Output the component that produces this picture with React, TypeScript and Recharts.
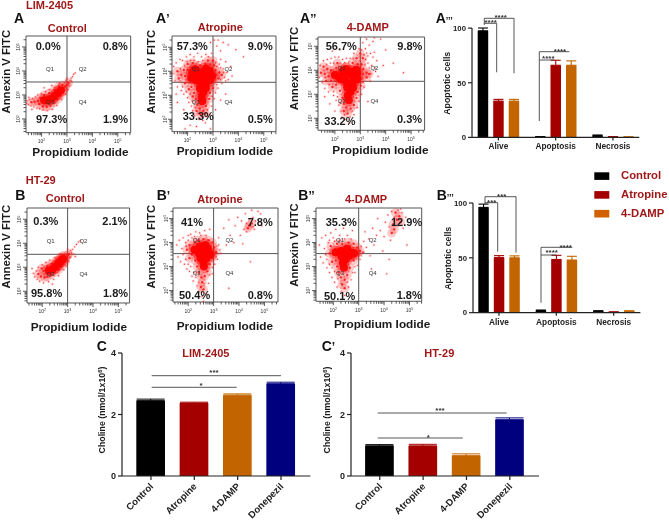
import React from "react";
import { ScatterChart, Scatter, XAxis, YAxis, ReferenceLine, ReferenceArea, BarChart, Bar, ErrorBar } from "recharts";

type P = number[];
const FONT = "'Liberation Sans', Arial, sans-serif";
const RED = "#a01818";
const BLACK = "#000000", CRIM = "#a50000", ORANGE = "#c26400", NAVY = "#00007f";

// ---- flow cytometry events (log10 units) ----
const aCore: P[] = [[2.1,2.78],[2.25,2.78],[2.4,2.85],[2.52,2.97],[2.64,3.08],[2.76,3.2]];
const aMid: P[] = [[1.6,2.7],[1.72,2.72],[1.85,2.75],[1.9,2.62],[1.95,2.88],[2.05,2.52],[2.2,2.5],[2.35,2.55],[2.5,2.68],[2.62,2.82],[2.75,2.98],[2.88,3.2],[2.92,3.35],[3.0,3.42],[2.1,3.0],[2.3,3.08],[2.5,3.22],[2.68,3.36],[2.82,3.42],[3.06,3.5]];
const aSpark: P[] = [[1.4,2.65],[1.42,2.75],[1.48,2.6],[1.52,2.8],[1.58,2.55],[1.65,2.85],[1.7,2.5],[1.75,2.92],[1.82,2.45],[1.85,3.0],[1.92,2.42],[2.0,3.05],[2.05,2.38],[2.15,3.14],[2.22,2.35],[2.3,3.22],[2.42,2.4],[2.5,3.32],[2.6,2.56],[2.7,3.48],[2.8,2.8],[2.95,3.02],[3.04,3.22],[3.08,3.4],[3.12,3.6],[3.16,3.7],[3.22,3.76],[3.26,3.86],[3.18,3.58],[3.32,3.92],[2.96,3.62],[3.0,3.7],[2.4,3.4],[1.5,2.9],[1.62,2.4],[2.1,3.3]];
const a1Core: P[] = [[2.58,2.75],[2.55,2.95],[2.62,3.12],[2.48,3.28],[2.72,3.3],[2.5,3.5],[2.72,3.5],[2.32,3.62],[2.88,3.62],[2.5,3.78],[2.72,3.78],[2.88,3.85],[2.28,3.82],[2.62,3.98],[2.86,4.02],[2.42,3.96],[2.14,3.72],[2.18,3.95],[2.3,4.08],[2.72,4.12],[2.96,3.8]];
const a1Mid: P[] = [[2.1,3.9],[2.0,4.05],[2.15,4.15],[1.9,3.8],[2.05,3.65],[2.15,3.35],[2.25,3.1],[2.32,2.85],[2.38,2.6],[2.48,2.45],[2.62,2.35],[2.72,2.55],[2.85,2.85],[2.88,3.1],[3.0,3.3],[3.05,3.65],[3.12,3.85],[3.1,4.05],[3.25,3.95],[3.05,4.25],[2.9,4.28],[2.7,4.3],[2.5,4.25],[2.3,4.22],[1.85,4.05],[1.75,3.85],[1.9,3.5],[2.05,3.25],[2.2,2.95],[3.22,3.7],[3.35,3.85],[2.8,4.45],[3.0,4.45],[2.2,4.35],[1.65,3.7],[1.6,4.0],[2.0,4.3],[2.5,2.2],[2.7,2.25],[2.35,2.35]];
const a1Spark: P[] = [[1.42,3.9],[1.45,4.2],[1.5,3.6],[1.55,4.35],[1.6,3.35],[1.7,4.5],[1.75,3.2],[1.8,4.45],[1.85,3.05],[1.95,4.6],[2.0,2.9],[2.05,2.7],[2.1,4.7],[2.15,2.55],[2.2,2.35],[2.25,4.6],[2.28,2.15],[2.4,4.75],[2.45,2.0],[2.55,4.6],[2.6,1.95],[2.7,1.85],[2.72,4.7],[2.85,2.2],[2.95,4.75],[2.95,2.55],[3.05,2.85],[3.1,3.1],[3.2,3.3],[3.25,4.3],[3.3,4.5],[3.35,3.5],[3.4,4.1],[3.45,3.75],[3.5,4.4],[3.55,3.95],[3.6,3.65],[3.7,4.2],[3.3,4.85],[3.15,5.05],[3.2,5.3],[3.4,5.2],[3.6,5.1],[3.9,4.9],[3.05,5.3],[2.9,5.2],[3.1,2.4],[2.1,1.75],[1.85,2.4],[1.6,2.7],[1.55,3.05],[2.35,1.7],[3.75,3.8],[4.2,4.6],[1.9,1.6],[2.9,1.6],[3.3,2.8],[3.5,3.05],
  [1.7,3.6],[1.72,4.1],[1.8,3.35],[1.88,4.25],[1.95,3.15],[1.98,4.4],[2.1,3.05],[2.12,4.45],[2.18,2.75],[2.25,4.45],[2.3,2.5],[2.42,2.25],[2.42,4.4],[2.56,2.1],[2.6,4.45],[2.78,2.4],[2.8,2.1],[2.82,4.6],[2.98,2.95],[3.1,4.35],[3.15,3.45],[3.15,4.2],[3.3,3.65],[3.3,4.15],[3.42,3.95],[3.5,3.6]];
const a2Core: P[] = [[2.55,2.75],[2.5,2.95],[2.62,3.1],[2.48,3.28],[2.72,3.28],[2.45,3.5],[2.7,3.5],[2.25,3.62],[2.88,3.62],[2.45,3.78],[2.7,3.78],[2.88,3.88],[2.15,3.72],[2.62,3.95],[2.84,4.02],[2.3,3.95],[2.0,3.8],[2.45,4.05]];
const a2Mid: P[] = [[1.95,3.85],[1.85,4.0],[2.05,4.1],[1.75,3.75],[1.85,3.55],[2.05,3.4],[2.2,3.15],[2.3,2.85],[2.35,2.6],[2.45,2.45],[2.62,2.4],[2.75,2.55],[2.85,2.85],[2.9,3.1],[3.02,3.35],[3.05,3.65],[3.1,3.85],[3.12,4.05],[3.25,3.9],[3.05,4.25],[2.9,4.25],[2.7,4.3],[2.45,4.15],[2.25,4.12],[1.7,4.05],[1.6,3.85],[1.65,3.55],[1.9,3.3],[2.1,4.3],[3.25,3.7],[3.35,3.85],[3.1,4.5],[3.0,4.7],[2.85,4.5],[1.55,4.15],[1.45,3.9],[2.5,2.2],[2.35,2.3]];
const a2Spark: P[] = [[1.38,3.7],[1.42,4.2],[1.5,3.5],[1.55,4.4],[1.6,3.25],[1.7,4.45],[1.75,3.1],[1.85,4.5],[1.95,2.95],[2.0,4.55],[2.05,2.75],[2.15,4.55],[2.15,2.55],[2.25,2.3],[2.3,4.45],[2.28,2.05],[2.45,4.5],[2.4,1.95],[2.6,4.5],[2.6,2.05],[2.75,2.15],[2.75,4.7],[2.95,2.7],[3.05,3.0],[3.1,5.15],[3.15,3.3],[3.2,4.9],[3.25,5.3],[3.3,4.3],[3.35,5.05],[3.4,3.55],[3.45,4.2],[3.5,5.2],[3.55,4.75],[3.6,3.95],[3.65,4.4],[3.7,3.75],[3.8,5.3],[3.9,4.2],[4.0,4.85],[3.02,5.4],[3.2,5.4],[3.4,4.7],[3.55,5.35],[3.15,4.65],[3.3,4.6],[1.6,2.9],[1.8,2.6],[2.0,2.3],[2.55,1.8],[4.3,4.3],[4.7,3.9],[3.3,2.7],[1.9,4.8],[2.2,4.85],
  [1.62,3.7],[1.68,4.25],[1.78,3.4],[1.82,4.3],[1.95,3.1],[1.95,4.3],[2.1,2.9],[2.2,4.3],[2.2,2.65],[2.38,2.15],[2.38,4.32],[2.55,4.35],[2.68,2.3],[2.72,4.5],[2.88,2.45],[3.12,3.5],[3.18,4.25],[3.2,4.45],[3.25,4.72],[3.35,4.1],[3.42,3.85],[3.5,4.55],[3.58,4.1],[3.05,4.85],[2.95,4.9]];
const bCore: P[] = [[2.25,2.85],[2.4,2.92],[2.52,3.02],[2.62,3.12],[2.72,3.24],[2.82,3.34]];
const bMid: P[] = [[1.85,2.72],[1.95,2.62],[2.05,2.85],[2.1,2.58],[2.2,2.6],[2.35,2.68],[2.5,2.78],[2.65,2.9],[2.78,3.06],[2.9,3.22],[2.95,3.4],[3.0,3.5],[3.05,3.55],[2.2,3.05],[2.38,3.15],[2.55,3.28],[2.7,3.42],[2.85,3.5],[1.98,2.95]];
const bSpark: P[] = [[1.6,2.95],[1.65,2.75],[1.7,2.6],[1.78,2.85],[1.8,2.5],[1.85,3.0],[1.9,2.42],[2.0,3.1],[2.05,2.35],[2.15,3.2],[2.25,2.4],[2.3,3.3],[2.45,2.5],[2.5,3.4],[2.65,2.65],[2.7,3.55],[2.85,2.9],[2.95,3.05],[3.05,3.25],[3.1,3.42],[3.15,3.6],[3.2,3.75],[3.28,3.85],[3.35,3.95],[3.12,3.7],[3.42,4.05],[3.25,3.55],[3.5,4.1],[3.0,3.75],[2.4,2.3],[3.3,3.45]];
const b1Core: P[] = [[2.62,3.0],[2.6,3.2],[2.48,3.35],[2.72,3.35],[2.42,3.55],[2.7,3.55],[2.55,3.72],[2.78,3.75],[2.45,3.85],[2.68,3.9],[2.25,3.7],[2.88,3.5]];
const b1Mid: P[] = [[2.2,3.75],[2.15,3.5],[2.28,3.25],[2.35,3.0],[2.42,2.75],[2.52,2.55],[2.65,2.6],[2.75,2.8],[2.85,3.1],[2.95,3.35],[2.98,3.6],[3.02,3.8],[2.95,4.0],[2.8,4.1],[2.6,4.15],[2.4,4.1],[2.25,4.0],[2.05,3.9],[1.95,3.7],[2.05,3.35],[2.55,2.35],[2.5,2.15],[2.6,2.05],[3.1,3.6],[4.4,4.7],[4.5,4.8],[4.35,4.6]];
const b1Spark: P[] = [[1.55,3.9],[1.6,3.4],[1.65,4.1],[1.7,3.2],[1.75,3.75],[1.8,4.2],[1.85,3.1],[1.9,4.0],[1.95,2.9],[2.0,4.3],[2.05,2.8],[2.1,4.35],[2.15,2.6],[2.2,2.4],[2.3,4.45],[2.35,2.2],[2.4,1.95],[2.45,4.4],[2.55,1.75],[2.6,1.55],[2.65,4.5],[2.7,1.85],[2.8,2.3],[2.85,4.55],[2.95,2.7],[3.05,3.1],[3.15,3.3],[3.2,3.9],[3.2,4.2],[3.3,3.55],[3.4,4.6],[3.5,3.9],[3.6,4.95],[3.65,4.3],[3.8,4.0],[3.85,4.7],[3.95,5.05],[4.05,4.3],[4.1,4.9],[4.2,4.55],[4.25,5.2],[4.3,4.8],[4.55,5.05],[4.6,4.55],[4.65,4.9],[4.75,5.3],[4.85,5.2],[4.5,5.35],[4.9,4.7],[4.15,3.95],[2.6,1.35],[2.5,1.3],[2.8,1.35],[4.45,3.2],[3.6,2.1],[4.4,4.95],[4.3,4.45],[4.55,4.65],
  [1.8,3.5],[1.9,3.3],[1.92,3.85],[2.0,3.1],[2.0,4.1],[2.1,3.0],[2.15,4.2],[2.22,2.75],[2.25,4.25],[2.3,2.55],[2.42,2.35],[2.5,4.3],[2.62,2.3],[2.7,4.3],[2.85,2.65],[2.95,2.95],[3.1,3.85],[3.1,3.4],[3.25,3.7]];
const b2Core: P[] = [[2.42,2.95],[2.38,3.15],[2.5,3.3],[2.32,3.42],[2.62,3.45],[2.45,3.58],[2.72,3.58],[2.3,3.65],[2.55,3.75],[2.1,3.6],[2.82,3.55]];
const b2Mid: P[] = [[2.05,3.7],[2.0,3.5],[2.1,3.25],[2.15,3.0],[2.2,2.75],[2.3,2.55],[2.45,2.45],[2.55,2.65],[2.65,2.95],[2.8,3.25],[2.88,3.45],[2.95,3.6],[2.95,3.8],[2.8,3.95],[2.6,4.0],[2.35,3.95],[2.15,3.95],[1.9,3.85],[1.85,3.55],[1.95,3.2],[2.35,2.25],[2.45,2.1],[3.05,3.65],[4.3,4.4],[4.4,4.55],[4.35,4.75],[4.5,4.95],[4.6,5.1],[4.65,4.85],[4.45,5.25]];
const b2Spark: P[] = [[1.45,3.9],[1.5,3.4],[1.55,4.2],[1.6,3.15],[1.65,3.75],[1.7,4.3],[1.75,2.95],[1.8,4.0],[1.85,2.75],[1.9,4.4],[1.95,2.55],[2.0,4.2],[2.05,2.35],[2.1,4.55],[2.15,2.15],[2.25,4.3],[2.3,1.95],[2.4,4.6],[2.45,1.8],[2.55,4.3],[2.6,2.15],[2.7,2.45],[2.75,4.5],[2.85,2.75],[2.95,3.05],[3.05,3.3],[3.15,3.6],[3.2,4.05],[3.25,4.45],[3.3,3.8],[3.4,4.15],[3.45,3.45],[3.55,4.6],[3.6,3.9],[3.7,4.3],[3.75,5.0],[3.85,4.5],[3.95,3.65],[4.0,4.25],[4.05,4.85],[4.15,5.15],[4.2,4.65],[4.25,4.1],[4.3,5.3],[4.55,5.35],[4.7,5.25],[4.75,4.6],[4.85,5.05],[4.2,3.3],[4.9,3.9],[3.5,2.9],[4.1,2.7],[4.65,5.4],[4.4,5.05],[4.55,4.7],
  [1.7,3.5],[1.75,3.3],[1.85,3.1],[1.85,4.1],[1.95,2.95],[2.05,4.05],[2.05,2.8],[2.18,2.5],[2.25,4.1],[2.3,2.3],[2.45,4.15],[2.55,2.35],[2.7,4.15],[2.75,2.75],[2.85,3.0],[3.1,3.85],[3.1,3.45],[3.2,3.6]];

// ---- bar values ----
const stateCats = ["Alive", "Apoptosis", "Necrosis"];
const ctrlA = [97.5, 0.5, 1.6], ctrlAErr = [2.6, 0.2, 0.6];
const atroA = [33.2, 66, 0.4], atroAErr = [1.6, 4.6, 0.3];
const dampA = [33.2, 66, 0.3], dampAErr = [1.6, 4, 0.2];
const ctrlB = [96, 2, 1.4], ctrlBErr = [3, 0.4, 0.4];
const atroB = [50.2, 48.5, 0.5], atroBErr = [1.8, 3.8, 0.3];
const dampB = [50, 48, 1.4], dampBErr = [1.8, 3.4, 0.3];
const cholineCats = ["Control", "Atropine", "4-DAMP", "Donepezil"];
const cholineColors = [BLACK, CRIM, ORANGE, NAVY];
const cholineLim = [2.45, 2.37, 2.63, 3.0], cholineLimErr = [0.05, 0.03, 0.04, 0.05];
const cholineHt = [0.98, 0.98, 0.66, 1.83], cholineHtErr = [0.04, 0.05, 0.06, 0.06];
const legendNames = ["Control", "Atropine", "4-DAMP"];

const minorTicks: number[] = [];
[1, 2, 3, 4, 5].forEach((d) => [1, 2, 3, 4, 5, 6, 7, 8, 9].forEach((m) => minorTicks.push(d + Math.log10(m))));
const QY = 3.54;

type Rect = { l: number; t: number; r: number; b: number; qx: number; qy: number };

const XTick = (props: any) => {
  const { x, y, payload } = props;
  const major = Number.isInteger(payload.value);
  return (
    <g>
      <line x1={x} x2={x} y1={y} y2={y + (major ? 4 : 2.5)} stroke="#333" strokeWidth={0.8} />
      {major && payload.value >= 2 ? (
        <text x={x} y={y + 10.5} textAnchor="middle" fontSize={5} fill="#333" fontFamily={FONT}>
          10<tspan dy={-2} fontSize={3.6}>{payload.value}</tspan>
        </text>
      ) : null}
    </g>
  );
};
const YTick = (props: any) => {
  const { x, y, payload } = props;
  const major = Number.isInteger(payload.value);
  return (
    <g>
      <line x1={x} x2={x - (major ? 4 : 2.5)} y1={y} y2={y} stroke="#333" strokeWidth={0.8} />
      {major && payload.value >= 2 ? (
        <text transform={`translate(${x - 5.5} ${y}) rotate(-90)`} textAnchor="middle" fontSize={5} fill="#333" fontFamily={FONT}>
          10<tspan dy={-2} fontSize={3.6}>{payload.value}</tspan>
        </text>
      ) : null}
    </g>
  );
};

function Flow({ box, core, mid, spark }: { box: Rect; core: P[]; mid: P[]; spark: P[] }) {
  const pw = box.r - box.l, ph = box.b - box.t;
  const x0 = 3 - (box.qx - box.l) / 25.4, x1 = 3 + (box.r - box.qx) / 25.4;
  const y0 = QY - (box.b - box.qy) / 24, y1 = QY + (box.qy - box.t) / 24;
  const toObj = (a: P[]) => a.map((p) => ({ x: p[0], y: p[1] }));
  const dot = (r: number, fill: string, op: number) => (p: any) => <circle cx={p.cx} cy={p.cy} r={r} fill={fill} fillOpacity={op} />;
  const xt = minorTicks.filter((v) => v > x0 && v < x1);
  const yt = minorTicks.filter((v) => v > y0 && v < y1);
  return (
    <div style={{ position: "absolute", left: box.l - 22, top: box.t - 2 }}>
      <ScatterChart width={pw + 24} height={ph + 20} margin={{ top: 2, right: 2, left: 0, bottom: 0 }}>
        <XAxis type="number" dataKey="x" domain={[x0, x1]} ticks={xt} interval={0} height={18} tick={<XTick />} tickLine={false} tickSize={0} tickMargin={0} axisLine={false} allowDataOverflow />
        <YAxis type="number" dataKey="y" domain={[y0, y1]} ticks={yt} interval={0} width={22} tick={<YTick />} tickLine={false} tickSize={0} tickMargin={0} axisLine={false} allowDataOverflow />
        <Scatter data={toObj(spark)} isAnimationActive={false} shape={dot(1.5, "#ff3030", 0.18)} />
        <Scatter data={toObj(mid)} isAnimationActive={false} shape={dot(4.5, "#ff2020", 0.24)} />
        <Scatter data={toObj(core)} isAnimationActive={false} shape={dot(6.5, "#ff0000", 0.35)} />
        <Scatter data={toObj(spark)} isAnimationActive={false} shape={dot(0.6, "#ff1a1a", 0.9)} />
        <Scatter data={toObj(mid)} isAnimationActive={false} shape={dot(1.2, "#ff1010", 0.85)} />
        <Scatter data={toObj(core)} isAnimationActive={false} shape={dot(4, "#ff0000", 0.95)} />
        <ReferenceLine x={3} stroke="#555" strokeWidth={1} />
        <ReferenceLine y={QY} stroke="#555" strokeWidth={1} />
        <ReferenceArea x1={x0} x2={x1} y1={y0} y2={y1} fill="none" stroke="#555" strokeWidth={1} fillOpacity={0} />
      </ScatterChart>
    </div>
  );
}

type Series = { name: string; vals: number[]; errs: number[]; color: string };
function StateBars({ plot, pad, series }: { plot: { l: number; t: number; r: number; b: number }; pad: number[]; series: Series[] }) {
  const rows = stateCats.map((c, i) => {
    const o: any = { cat: c };
    series.forEach((s) => { o[s.name] = s.vals[i]; o[s.name + "E"] = [0, s.errs[i]]; });
    return o;
  });
  return (
    <div style={{ position: "absolute", left: plot.l - 40, top: plot.t - 10 }}>
      <BarChart width={plot.r - plot.l + 45} height={plot.b - plot.t + 30} data={rows} barSize={10.5} barGap={5} barCategoryGap={0} margin={{ top: 10, right: 5, left: 0, bottom: 0 }}>
        <XAxis dataKey="cat" height={20} padding={{ left: pad[0], right: pad[1] }} interval={0} axisLine={{ stroke: "#222", strokeWidth: 1.2 }} tickLine={{ stroke: "#222", strokeWidth: 1.2 }} tickSize={3} tick={{ fontSize: 8.3, fontWeight: 700, fill: "#222", fontFamily: FONT, dy: 1 }} />
        <YAxis domain={[0, 100]} ticks={[0, 50, 100]} width={40} axisLine={{ stroke: "#222", strokeWidth: 1.2 }} tickLine={{ stroke: "#222", strokeWidth: 1.2 }} tickSize={4} tick={{ fontSize: 7.8, fontWeight: 700, fill: "#222", fontFamily: FONT }} />
        {series.map((s) => (
          <Bar key={s.name} dataKey={s.name} fill={s.color} isAnimationActive={false}>
            <ErrorBar dataKey={s.name + "E"} direction="y" width={5} stroke={s.color} strokeWidth={1.1} isAnimationActive={false} />
          </Bar>
        ))}
      </BarChart>
    </div>
  );
}

const CholTick = (props: any) => {
  const { x, y, payload } = props;
  return (
    <text transform={`translate(${x + 3} ${y + 5}) rotate(-45)`} textAnchor="end" fontSize={9.6} fontWeight={700} fill="#222" fontFamily={FONT}>
      {payload.value}
    </text>
  );
};

function Choline({ plot, pad, vals, errs }: { plot: { l: number; t: number; r: number; b: number }; pad: number[]; vals: number[]; errs: number[] }) {
  const rows = cholineCats.map((c, i) => {
    const o: any = { cat: c };
    cholineCats.forEach((k, j) => {
      o["s" + j] = i === j ? vals[i] : null;
      o["e" + j] = i === j ? [0, errs[i]] : null;
    });
    return o;
  });
  return (
    <div style={{ position: "absolute", left: plot.l - 40, top: plot.t - 10 }}>
      <BarChart width={plot.r - plot.l + 45} height={plot.b - plot.t + 55} data={rows} barSize={28.7} barCategoryGap={0} margin={{ top: 10, right: 5, left: 0, bottom: 0 }}>
        <XAxis dataKey="cat" height={45} padding={{ left: pad[0], right: pad[1] }} interval={0} axisLine={{ stroke: "#222", strokeWidth: 1.2 }} tickLine={{ stroke: "#222", strokeWidth: 1.2 }} tickSize={4} tick={<CholTick />} />
        <YAxis domain={[0, 4]} ticks={[0, 2, 4]} width={40} axisLine={{ stroke: "#222", strokeWidth: 1.2 }} tickLine={{ stroke: "#222", strokeWidth: 1.2 }} tickSize={4} tick={{ fontSize: 9, fontWeight: 700, fill: "#222", fontFamily: FONT }} />
        {cholineCats.map((k, j) => (
          <Bar key={k} dataKey={"s" + j} stackId="a" fill={cholineColors[j]} isAnimationActive={false}>
            <ErrorBar dataKey={"e" + j} direction="y" width={14} stroke={cholineColors[j]} strokeWidth={1} isAnimationActive={false} />
          </Bar>
        ))}
      </BarChart>
    </div>
  );
}

const T = ({ x, y, s, size = 11, fill = "#1a1a1a", w = 700, anchor = "start" }: any) => (
  <text x={x} y={y} fontSize={size} fontWeight={w} fill={fill} fontFamily={FONT} textAnchor={anchor}>{s}</text>
);
const V = ({ x, y, s, size = 11.3, w = 700, fill = "#1a1a1a", children }: any) => (
  <text transform={`translate(${x} ${y}) rotate(-90)`} fontSize={size} fontWeight={w} fill={fill} fontFamily={FONT} textAnchor="middle">{s}{children}</text>
);
const Letter = ({ x, y, s, marks = "" }: any) => (
  <text x={x} y={y} fontSize={14} fontWeight={700} fill="#111" fontFamily={FONT}>{s}<tspan fontSize={marks.length > 2 ? 9 : 12}>{marks}</tspan></text>
);
const Qs = ({ box }: { box: Rect }) => (
  <>
    {[["Q1", 20, -11], ["Q2", 52.7, -11], ["Q3", 20, 21.5], ["Q4", 52.7, 21.5]].map(([q, dx, dy]: any) => (
      <text key={q} x={box.l + dx} y={box.qy + dy} fontSize={6} fill="#333" fontFamily={FONT}>{q}</text>
    ))}
  </>
);
const Path = ({ d }: { d: string }) => <path d={d} fill="none" stroke="#444" strokeWidth={0.9} />;
const Star = ({ x, y, s, size = 8 }: any) => <text x={x} y={y} fontSize={size} fontWeight={700} fill="#333" textAnchor="middle" fontFamily={FONT}>{s}</text>;

const boxA: Rect = { l: 26, t: 36, r: 130.7, b: 132.7, qx: 67, qy: 82 };
const boxA1: Rect = { l: 171.7, t: 36, r: 275.7, b: 131.7, qx: 212.7, qy: 82.3 };
const boxA2: Rect = { l: 317.7, t: 36.7, r: 424.3, b: 130, qx: 360, qy: 81 };
const boxB: Rect = { l: 26.7, t: 207.7, r: 129.3, b: 302.7, qx: 67.3, qy: 254 };
const boxB1: Rect = { l: 172.7, t: 207.7, r: 277.7, b: 301.7, qx: 213.3, qy: 253.3 };
const boxB2: Rect = { l: 316, t: 207.7, r: 421.7, b: 301, qx: 358.7, qy: 253.3 };

export default function App() {
  return (
    <div style={{ position: "absolute", left: 0, top: 0, width: 669, height: 521, background: "#fff", overflow: "hidden", filter: "blur(0.35px)" }}>
      <Flow box={boxA} core={aCore} mid={aMid} spark={aSpark} />
      <Flow box={boxA1} core={a1Core} mid={a1Mid} spark={a1Spark} />
      <Flow box={boxA2} core={a2Core} mid={a2Mid} spark={a2Spark} />
      <Flow box={boxB} core={bCore} mid={bMid} spark={bSpark} />
      <Flow box={boxB1} core={b1Core} mid={b1Mid} spark={b1Spark} />
      <Flow box={boxB2} core={b2Core} mid={b2Mid} spark={b2Spark} />
      <StateBars plot={{ l: 471.7, t: 28.3, r: 639, b: 137.7 }} pad={[-2.3, -2.3]} series={[
        { name: "Control", vals: ctrlA, errs: ctrlAErr, color: BLACK },
        { name: "Atropine", vals: atroA, errs: atroAErr, color: CRIM },
        { name: "4-DAMP", vals: dampA, errs: dampAErr, color: ORANGE },
      ]} />
      <StateBars plot={{ l: 473.3, t: 203.3, r: 640.7, b: 313 }} pad={[-2.7, -2]} series={[
        { name: "Control", vals: ctrlB, errs: ctrlBErr, color: BLACK },
        { name: "Atropine", vals: atroB, errs: atroBErr, color: CRIM },
        { name: "4-DAMP", vals: dampB, errs: dampBErr, color: ORANGE },
      ]} />
      <Choline plot={{ l: 122.3, t: 353.3, r: 310.7, b: 476.3 }} pad={[7.3, 7.7]} vals={cholineLim} errs={cholineLimErr} />
      <Choline plot={{ l: 350.7, t: 353.3, r: 538.7, b: 476.3 }} pad={[7.1, 7.5]} vals={cholineHt} errs={cholineHtErr} />

      <svg width={669} height={521} style={{ position: "absolute", left: 0, top: 0, pointerEvents: "none" }}>
        <T x={26} y={9} s="LIM-2405" fill={RED} />
        <T x={25.7} y={184.3} s="HT-29" fill={RED} />
        <Letter x={14} y={23} s="A" />
        <Letter x={156} y={23} s="A" marks="’" />
        <Letter x={300} y={23} s="A" marks="’’" />
        <Letter x={435.7} y={23} s="A" marks="’’’" />
        <Letter x={15.3} y={200} s="B" />
        <Letter x={156.7} y={200} s="B" marks="’" />
        <Letter x={298.3} y={200} s="B" marks="’’" />
        <Letter x={436.7} y={200} s="B" marks="’’’" />
        <Letter x={96.7} y={350.7} s="C" />
        <Letter x={321.7} y={350.7} s="C" marks="’" />

        <T x={47.7} y={31.7} s="Control" fill={RED} />
        <T x={197.7} y={31} s="Atropine" fill={RED} />
        <T x={346.7} y={31} s="4-DAMP" fill={RED} />
        <T x={45.7} y={202.3} s="Control" fill={RED} />
        <T x={197.3} y={202.7} s="Atropine" fill={RED} />
        <T x={345} y={202.7} s="4-DAMP" fill={RED} />
        <T x={182.3} y={357.3} s="LIM-2405" fill={RED} />
        <T x={424.3} y={357.3} s="HT-29" fill={RED} />

        <T x={35.7} y={50} s="0.0%" /><T x={102.7} y={50} s="0.8%" /><T x={36} y={122.7} s="97.3%" /><T x={103} y={122.7} s="1.9%" />
        <T x={176.7} y={50} s="57.3%" /><T x={247.7} y={50} s="9.0%" /><T x={182.7} y={120} s="33.3%" /><T x={247.7} y={122.7} s="0.5%" />
        <T x={325.7} y={50} s="56.7%" /><T x={397.3} y={50} s="9.8%" /><T x={324.3} y={125} s="33.2%" /><T x={397} y={122.7} s="0.3%" />
        <T x={33.3} y={225} s="0.3%" /><T x={102.3} y={225} s="2.1%" /><T x={31} y={297.3} s="95.8%" /><T x={103} y={297.3} s="1.8%" />
        <T x={181} y={225.7} s="41%" /><T x={247.7} y={225.7} s="7.8%" /><T x={179} y={299} s="50.4%" /><T x={247.7} y={299} s="0.8%" />
        <T x={325.7} y={225.7} s="35.3%" /><T x={391} y={225.7} s="12.9%" /><T x={324} y={300} s="50.1%" /><T x={396.7} y={299} s="1.8%" />

        <Qs box={boxA} /><Qs box={boxA1} /><Qs box={boxA2} /><Qs box={boxB} /><Qs box={boxB1} /><Qs box={boxB2} />

        <V x={9.8} y={71.7} s="Annexin V FITC" /><V x={154.5} y={71.7} s="Annexin V FITC" /><V x={298} y={68.5} s="Annexin V FITC" />
        <V x={9.5} y={246.7} s="Annexin V FITC" /><V x={154.5} y={246.7} s="Annexin V FITC" /><V x={297.5} y={245} s="Annexin V FITC" />
        <T x={32.3} y={155.7} s="Propidium Iodide" size={11.8} />
        <T x={176.7} y={155} s="Propidium Iodide" size={11.8} />
        <T x={332.3} y={154.3} s="Propidium Iodide" size={11.8} />
        <T x={30.7} y={331} s="Propidium Iodide" size={11.8} />
        <T x={176.7} y={330} s="Propidium Iodide" size={11.8} />
        <T x={334} y={328} s="Propidium Iodide" size={11.8} />

        <V x={450} y={83.3} s="Apoptotic cells" size={8.8} />
        <V x={450.7} y={258.3} s="Apoptotic cells" size={8.8} />
        <V x={105} y={410} size={8.8}>Choline (nmol/1x10<tspan dy={-3} fontSize={6}>6</tspan><tspan dy={3}>)</tspan></V>
        <V x={330} y={410} size={8.8}>Choline (nmol/1x10<tspan dy={-3} fontSize={6}>6</tspan><tspan dy={3}>)</tspan></V>

        <Path d="M484.3 25V18.3H514V73.3" /><Path d="M484.3 23.3H496.7V72.3" />
        <Path d="M539.3 121V51.7H569.3" /><Path d="M539.3 60H554.3" />
        <Star x={490.7} y={25.3} s="****" /><Star x={500.7} y={20} s="****" /><Star x={548.3} y={61.3} s="****" /><Star x={560} y={53.6} s="****" />
        <Path d="M485 204V196.7H516V252.7" /><Path d="M485 202.7H497.7V251.7" />
        <Path d="M541 302.7V247.3H572.3" /><Path d="M541 255H556.7" />
        <Star x={491.7} y={205.3} s="***" /><Star x={501.7} y={199.3} s="***" /><Star x={551.7} y={255.3} s="****" /><Star x={565.7} y={249.9} s="****" />

        <Path d="M151.7 375.7H281" /><Path d="M151.7 387.3H236.7" />
        <Star x={214} y={375.3} s="***" /><Star x={201} y={388} s="*" />
        <Path d="M377.7 413H506.7" /><Path d="M377.7 438H462.7" />
        <Star x={440} y={413} s="***" /><Star x={428.3} y={440} s="*" />

        {legendNames.map((n, i) => (
          <g key={n}>
            <rect x={594.3} y={172.3 + i * 18.8} width={15} height={7.6} fill={[BLACK, CRIM, "#d06000"][i]} />
            <T x={621} y={179 + i * 19} s={n} size={11.3} fill={RED} />
          </g>
        ))}
      </svg>
    </div>
  );
}
